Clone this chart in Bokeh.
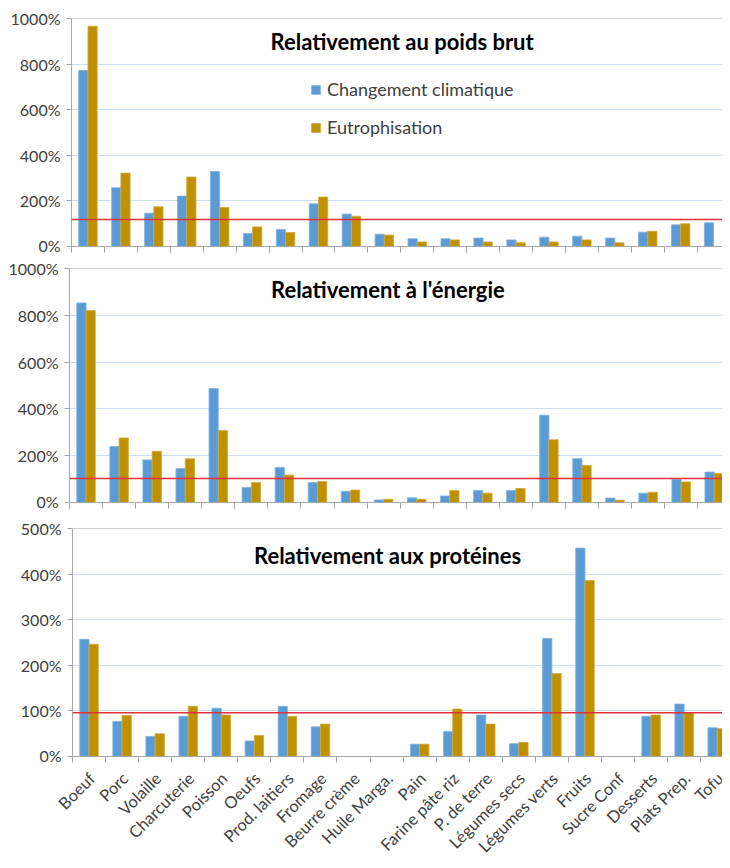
import math
from bokeh.plotting import figure
from bokeh.models import (Range1d, FixedTicker, PrintfTickFormatter, Span, Label,
                          Legend, LegendItem, ColumnDataSource)
from bokeh.core.properties import value
from bokeh.layouts import column
from bokeh.embed import file_html
from bokeh.resources import INLINE
from bokeh.transform import dodge

nan = float("nan")

categories = ["Boeuf", "Porc", "Volaille", "Charcuterie", "Poisson", "Oeufs",
              "Prod. laitiers", "Fromage", "Beurre crème", "Huile Marga.", "Pain",
              "Farine pâte riz", "P. de terre", "Légumes secs", "Légumes verts",
              "Fruits", "Sucre Conf", "Desserts", "Plats Prep.", "Tofu"]

series_names = ["Changement climatique", "Eutrophisation"]

poids_climat = [772, 258, 146, 221, 329, 57, 75, 187, 142, 54, 34, 34, 37, 29, 41, 45, 37, 63, 95, 104]
poids_eutro = [966, 322, 174, 305, 171, 86, 61, 217, 133, 50, 20, 29, 20, 16, 20, 29, 16, 67, 100, nan]
poids_ref = 118

energie_climat = [853, 239, 182, 145, 487, 64, 150, 85, 48, 11, 20, 28, 51, 51, 373, 187, 19, 40, 98, 130]
energie_eutro = [820, 276, 219, 187, 308, 85, 117, 90, 53, 14, 14, 51, 40, 60, 268, 158, 10, 44, 88, 124]
energie_ref = 103

proteines_climat = [257, 77, 44, 88, 106, 34, 110, 65, nan, nan, 27, 55, 91, 28, 259, 457, nan, 88, 115, 63]
proteines_eutro = [246, 90, 50, 110, 91, 46, 88, 71, nan, nan, 27, 104, 71, 31, 182, 386, nan, 91, 96, 61]
proteines_ref = 96

titles = ["Relativement au poids brut", "Relativement à l'énergie", "Relativement aux protéines"]

BLUE = "#5B9BD5"
GOLD = "#BF9000"
AXIS = "#A6A6A6"
GRID = "#C9DEF2"
RED = "#E0303A"
TXT = "#404040"
FONT = "Lato"

SPACING = 33.07  # px per category (bottom panel)


def make_panel(clim, eutro, ref, ymax, ystep, title, tx, ty, height, top, bottom,
               left, xend, with_legend):
    idx = list(range(len(categories)))
    src = ColumnDataSource(dict(idx=idx, cat=categories, clim=clim, eutro=eutro))
    p = figure(width=722, height=height, x_range=Range1d(-0.5, xend),
               y_range=Range1d(0, ymax), output_backend="svg", toolbar_location=None,
               min_border_left=left, min_border_right=0, min_border_top=top,
               min_border_bottom=bottom)
    p.frame_align = False
    p.title.visible = False
    p.outline_line_color = None
    p.background_fill_color = "white"

    r1 = p.vbar(x=dodge("idx", -0.14, range=p.x_range), top="clim", width=0.28,
                source=src, fill_color=BLUE, line_color="#7FB1E0", line_width=0.8)
    r2 = p.vbar(x=dodge("idx", 0.14, range=p.x_range), top="eutro", width=0.28,
                source=src, fill_color=GOLD, line_color="#D2A93A", line_width=0.8)

    yt = list(range(0, ymax + 1, ystep))
    p.yaxis.ticker = FixedTicker(ticks=yt)
    p.yaxis.formatter = PrintfTickFormatter(format="%d%%")
    p.yaxis.major_tick_out = 5
    p.yaxis.major_tick_in = 0
    p.yaxis.minor_tick_out = 0
    p.yaxis.minor_tick_in = 0
    p.yaxis.axis_line_color = AXIS
    p.yaxis.major_tick_line_color = AXIS
    p.yaxis.major_label_text_font = FONT
    p.yaxis.major_label_text_font_size = "16px"
    p.yaxis.major_label_text_color = TXT
    p.yaxis.major_label_standoff = 6

    p.ygrid.ticker = FixedTicker(ticks=yt[1:-1])
    p.ygrid.grid_line_color = GRID
    p.xgrid.visible = False

    bounds = [i - 0.5 for i in range(len(categories) + 1)]
    p.xaxis.ticker = FixedTicker(ticks=[], minor_ticks=bounds)
    p.xaxis.major_label_text_font_size = "0px"
    p.xaxis.major_label_standoff = 0
    p.xaxis.major_tick_out = 0
    p.xaxis.major_tick_in = 0
    p.xaxis.minor_tick_out = 6
    p.xaxis.minor_tick_in = 0
    p.xaxis.minor_tick_line_color = AXIS
    p.xaxis.axis_line_color = AXIS

    p.add_layout(Span(location=ymax, dimension="width", line_color=AXIS, line_width=1))
    p.add_layout(Span(location=ref, dimension="width", line_color=RED, line_width=1.5))

    p.add_layout(Label(x=tx, y=ty, text=title, text_align="center",
                       text_baseline="middle", text_font=FONT, text_font_style="bold",
                       text_font_size="22px", text_color="black"))

    if with_legend:
        leg = Legend(items=[LegendItem(label=series_names[0], renderers=[r1]),
                            LegendItem(label=series_names[1], renderers=[r2])],
                     location=(239, 108), orientation="vertical",
                     border_line_color=None, background_fill_alpha=0,
                     padding=0, margin=0, spacing=16, glyph_width=11,
                     glyph_height=11, label_standoff=6, label_height=20,
                     label_text_font=FONT, label_text_font_size="18px",
                     label_text_color=TXT)
        p.add_layout(leg)
    return p


p1 = make_panel(poids_climat, poids_eutro, poids_ref, 1000, 200, titles[0],
                9.54, 899, 254, 18, 8, 71, 19.27, True)
p2 = make_panel(energie_climat, energie_eutro, energie_ref, 1000, 200, titles[1],
                9.13, 911, 256, 14, 8, 69, 19.25, False)
p3 = make_panel(proteines_climat, proteines_eutro, proteines_ref, 500, 100, titles[2],
                9.03, 441, 254, 18, 8, 72, 19.16, False)

# category labels strip under the bottom panel (same x scale, full-width frame)
lab_h = 95
lab_src = ColumnDataSource(dict(idx=list(range(len(categories))), cat=categories))
p4 = figure(width=722, height=lab_h,
            x_range=Range1d(-0.5 - 72 / SPACING, 19.16), y_range=Range1d(-lab_h, 0),
            output_backend="svg", toolbar_location=None,
            x_axis_location=None, y_axis_location=None,
            min_border_left=0, min_border_right=0, min_border_top=0, min_border_bottom=0)
p4.frame_align = False
p4.title.visible = False
p4.outline_line_color = None
p4.xgrid.visible = False
p4.ygrid.visible = False
p4.text(x="idx", y=-4, text="cat", source=lab_src, angle=math.pi / 4,
        x_offset=-4, text_align="right", text_baseline="top",
        text_font=value(FONT), text_font_size="16.5px", text_color=TXT)

layout = column(p1, p2, p3, p4, spacing=0)
open("out.html", "w").write(file_html(layout, INLINE))
